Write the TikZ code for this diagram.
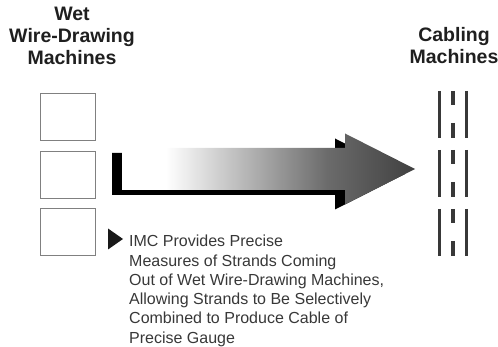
\documentclass[tikz,border=0pt]{standalone}
\usepackage{fontspec}
\setmainfont{Liberation Sans}

% left-to-right fade of the big arrow (25bp..75bp spans the path)
\pgfdeclarehorizontalshading{arrowfade}{100bp}{%
  color(0bp)=(white); color(32.5bp)=(white);
  color(60bp)=(black!58); color(75bp)=(black!75); color(100bp)=(black!75)}

\tikzset{
  title/.style={anchor=base, inner sep=0pt, text=black!88,
    font=\bfseries\fontsize{19.5}{22}\selectfont},
  note/.style={anchor=base west, inner sep=0pt, text=black!78,
    font=\fontsize{16}{19}\selectfont},
  wdbox/.style={draw=black!50, line width=0.9pt, minimum width=55pt,
    minimum height=47pt, inner sep=0pt},
  cabline/.style={draw=black!78, line width=3.5pt},
}

\begin{document}
\begin{tikzpicture}[x=1pt,y=-1pt]
\useasboundingbox (0,0) rectangle (498,347);

% headings
\node[title] (wetA) at (72,20.5) {Wet};
\node[title] (wetB) at (72,43)   {Wire-Drawing};
\node[title] (wetC) at (72,65)   {Machines};
\node[title] (cabA) at (454,41.5) {Cabling};
\node[title] (cabB) at (454,64)   {Machines};

% wet wire-drawing machines
\node[wdbox] (wd1) at (67.5,116.5) {};
\node[wdbox] (wd2) at (67.5,174.5) {};
\node[wdbox] (wd3) at (67.5,232)   {};

% cabling machines
\foreach \t in {91,150,209}{
  \draw[cabline] (439.5,\t) -- (439.5,\t+47);
  \draw[cabline] (466.7,\t) -- (466.7,\t+47);
  \draw[cabline] (453,\t) -- (453,\t+14);
  \draw[cabline] (453,\t+32) -- (453,\t+47);
}

% big arrow: black drop shadow, then the shaded arrow on top
\fill[black, shift={(-10,5)}]
  (122,148) -- (345,148) -- (345,133.5) -- (415,169) -- (345,204.5)
  -- (345,190) -- (122,190) -- cycle;
\shade[shading=arrowfade]
  (122,148) -- (345,148) -- (345,133.5) -- (415,169) -- (345,204.5)
  -- (345,190) -- (122,190) -- cycle;

% note with bullet
\fill[black!90] (108,228.5) -- (123,239) -- (108,249.5) -- cycle;
\node[note] (n1) at (129,247)   {IMC Provides Precise};
\node[note] (n2) at (129,266.2) {Measures of Strands Coming};
\node[note] (n3) at (129,285.4) {Out of Wet Wire-Drawing Machines,};
\node[note] (n4) at (129,304.6) {Allowing Strands to Be Selectively};
\node[note] (n5) at (129,323.8) {Combined to Produce Cable of};
\node[note] (n6) at (129,343)   {Precise Gauge};
\end{tikzpicture}
\end{document}
